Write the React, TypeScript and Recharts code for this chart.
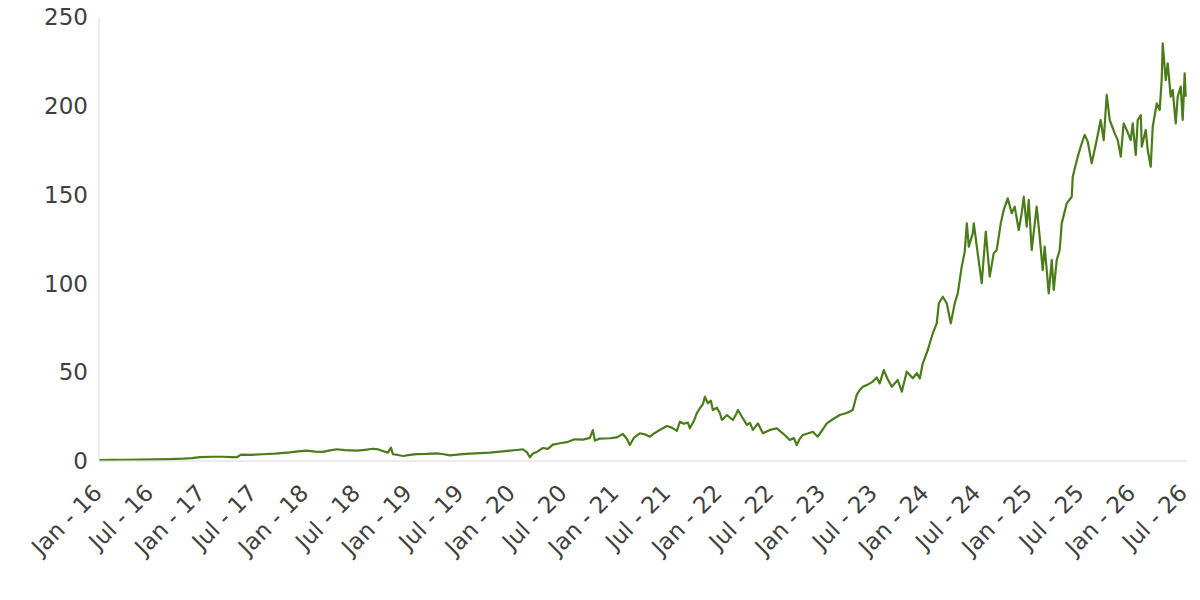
import { LineChart, Line, XAxis, YAxis } from "recharts";

// months since Jan 2016 (x) and closing price (y)
const months = [
  0.0, 1.28, 3.02, 4.76, 6.5, 8.24, 9.75, 10.79, 11.72, 13.11, 14.39, 15.43, 16.01, 16.48, 17.52, 19.03,
  20.42, 22.17, 23.09, 24.14, 25.07, 25.99, 26.81, 27.62, 28.55, 29.94, 30.87, 31.8, 32.38, 32.84, 33.54,
  33.89, 34.12, 34.7, 35.28, 36.09, 36.9, 38.06, 39.22, 40.04, 40.73, 41.89, 43.05, 44.22, 45.38, 46.54,
  47.7, 48.51, 49.21, 49.67, 50.02, 50.37, 50.83, 51.53, 52.11, 52.69, 53.5, 54.31, 55.24, 56.17, 56.98,
  57.33, 57.56, 58.14, 59.3, 60.11, 60.81, 61.27, 61.62, 62.08, 62.78, 63.36, 63.94, 64.52, 65.1, 65.92,
  66.5, 67.08, 67.43, 67.89, 68.36, 68.59, 69.05, 69.4, 69.75, 70.1, 70.33, 70.68, 71.03, 71.26, 71.73,
  72.08, 72.31, 72.89, 73.24, 73.59, 73.93, 74.17, 74.63, 75.21, 75.56, 75.91, 76.49, 77.07, 77.88, 78.69,
  79.37, 79.84, 80.19, 80.65, 81.0, 81.35, 81.7, 82.28, 82.86, 83.44, 83.9, 84.49, 85.18, 85.99, 86.8,
  87.5, 87.96, 88.31, 88.66, 89.24, 89.82, 90.29, 90.63, 91.1, 91.56, 92.03, 92.72, 93.19, 93.77, 94.47,
  94.93, 95.28, 95.63, 96.21, 96.79, 97.25, 97.49, 97.95, 98.41, 98.88, 99.34, 99.69, 100.15, 100.5,
  100.74, 100.97, 101.43, 101.55, 101.9, 102.47, 102.94, 103.4, 103.86, 104.21, 104.68, 105.02, 105.49,
  105.95, 106.3, 106.77, 107.11, 107.35, 107.69, 107.93, 108.27, 108.85, 109.2, 109.55, 109.78, 110.25,
  110.6, 110.83, 111.18, 111.52, 111.76, 112.34, 112.92, 113.04, 113.62, 114.08, 114.43, 114.78, 115.24,
  115.82, 116.28, 116.63, 116.98, 117.33, 117.91, 118.26, 118.61, 118.95, 119.3, 119.77, 120.0, 120.35,
  120.58, 120.93, 121.05, 121.51, 121.74, 122.09, 122.32, 122.79, 123.13, 123.36, 123.48, 123.83, 124.06,
  124.41, 124.64, 124.99, 125.22, 125.57, 125.8, 126.03, 126.15,
];

const prices = [
  0.5, 0.6, 0.7, 0.8, 0.9, 1.1, 1.3, 1.6, 2.2, 2.4, 2.4, 2.2, 2.1, 3.6, 3.5, 3.8,
  4.2, 4.9, 5.4, 5.8, 5.3, 5.1, 6.0, 6.6, 6.1, 5.8, 6.3, 6.9, 6.6, 5.8, 4.7,
  7.5, 3.8, 3.4, 2.8, 3.4, 3.9, 4.0, 4.3, 3.8, 3.2, 3.7, 4.1, 4.4, 4.7, 5.3,
  5.8, 6.2, 6.6, 5.0, 2.1, 4.2, 5.1, 7.3, 6.8, 9.2, 10.0, 10.6, 12.2, 12.0, 13.0,
  17.4, 11.5, 12.6, 12.8, 13.3, 15.2, 12.5, 9.0, 13.0, 15.6, 15.0, 13.7, 15.8, 17.5, 19.7,
  18.8, 17.0, 22.1, 21.0, 21.6, 18.4, 22.5, 26.9, 29.7, 32.0, 36.2, 32.5, 34.0, 28.7, 30.0,
  26.9, 23.1, 25.9, 24.5, 23.1, 26.0, 28.7, 24.9, 20.3, 21.5, 17.5, 21.2, 15.6, 17.5, 18.4,
  15.6, 13.5, 11.8, 13.0, 9.0, 12.5, 14.6, 15.5, 16.5, 13.7, 17.0, 21.2, 23.5, 25.9, 27.0,
  28.7, 37.2, 40.0, 41.8, 43.0, 44.7, 47.0, 43.7, 51.2, 46.0, 41.8, 45.6, 39.0, 50.3, 46.6,
  49.5, 46.5, 55.0, 62.5, 71.9, 77.5, 88.8, 92.5, 88.8, 77.5, 88.8, 94.4, 109.4, 117.9,
  133.8, 120.7, 128.2, 133.8, 120.7, 100.1, 129.1, 103.8, 116.9, 118.8, 133.8, 141.3, 147.9,
  139.5, 143.2, 130.1, 139.5, 148.8, 131.9, 147.0, 118.8, 143.2, 126.3, 107.5, 120.7, 94.4,
  113.2, 96.3, 113.2, 118.8, 133.8, 145.1, 148.8, 160.1, 171.4, 178.9, 183.6, 179.8, 167.6,
  180.7, 192.0, 180.7, 206.1, 192.0, 184.5, 180.7, 171.4, 190.1, 186.4, 180.7, 190.1, 172.3,
  192.0, 194.8, 177.0, 186.4, 175.1, 165.7, 188.2, 201.4, 197.6, 214.5, 235.2, 214.5, 223.9,
  205.1, 208.9, 190.1, 205.1, 210.8, 192.0, 218.3, 205.1,
];

const tickLabels = [
  "Jan - 16", "Jul - 16", "Jan - 17", "Jul - 17", "Jan - 18", "Jul - 18", "Jan - 19", "Jul - 19",
  "Jan - 20", "Jul - 20", "Jan - 21", "Jul - 21", "Jan - 22", "Jul - 22", "Jan - 23", "Jul - 23",
  "Jan - 24", "Jul - 24", "Jan - 25", "Jul - 25", "Jan - 26", "Jul - 26",
];
const tickMonths = tickLabels.map((_, i) => i * 6);
const yTicks = [0, 50, 100, 150, 200, 250];

const data = months.map((m, i) => ({ m, price: prices[i] }));

const FONT = "'DejaVu Sans', sans-serif";
const TEXT = "#404040";

function XTick({ x, y, payload }: any) {
  const label = tickLabels[Math.round(payload.value / 6)] ?? "";
  return (
    <text
      x={x}
      y={y}
      dx={-15}
      dy={21}
      textAnchor="end"
      transform={`rotate(-45 ${x} ${y})`}
      fill={TEXT}
      fontSize={23}
      fontFamily={FONT}
    >
      {label}
    </text>
  );
}

export default function App() {
  return (
    <div style={{ width: 1200, height: 600, background: "#fff" }}>
      <style>{`body{margin:0}`}</style>
      <LineChart width={1200} height={600} data={data} margin={{ top: 17, right: 13, left: 0, bottom: 0 }}>
        <XAxis
          dataKey="m"
          type="number"
          domain={[0, 126.3]}
          ticks={tickMonths}
          interval={0}
          tick={<XTick />}
          tickLine={false}
          axisLine={{ stroke: "#d9d9d9" }}
          height={139}
        />
        <YAxis
          domain={[0, 250]}
          ticks={yTicks}
          width={99}
          tickLine={false}
          axisLine={{ stroke: "#d9d9d9" }}
          tick={{ fill: TEXT, fontSize: 23, fontFamily: FONT }}
          tickMargin={5}
        />
        <Line
          type="linear"
          dataKey="price"
          stroke="#4a7c19"
          strokeWidth={2.2}
          strokeLinejoin="round"
          dot={false}
          isAnimationActive={false}
        />
      </LineChart>
    </div>
  );
}
